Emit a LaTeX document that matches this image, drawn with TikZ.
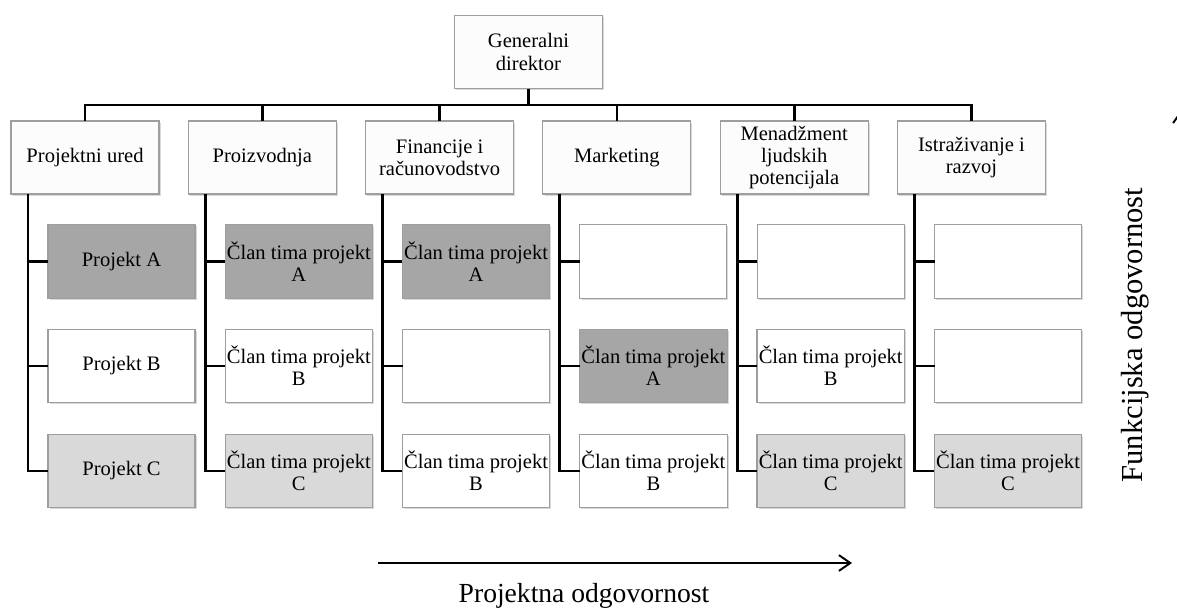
\documentclass[tikz,border=0pt]{standalone}
\usepackage{fontspec}
\setmainfont{Liberation Serif}
\usetikzlibrary{shadows,arrows.meta}

\begin{document}
\begin{tikzpicture}[x=0.02cm, y=-0.02cm,
    box/.style={draw=black!38, line width=0.6pt, fill=black!1, minimum width=2.96cm, minimum height=1.46cm,
        align=center, inner sep=1pt, outer sep=0pt, font=\fontsize{11.7}{12.6}\selectfont,
        drop shadow={opacity=0.3, shadow xshift=0.9pt, shadow yshift=-0.9pt}},
    member/.style={box, minimum width=2.94cm, minimum height=1.47cm, fill=white},
    darkmember/.style={member, fill=black!35},
    lightmember/.style={member, fill=black!15},
    link/.style={line width=1.6pt},
    axis/.style={line width=1.1pt, -{Straight Barb[length=6.5pt,width=9pt]}}]
    \clip (0, 0) rectangle (1177, 610);

    % top
    \node [box] (gd) at (528.5, 52) {Generalni\\direktor};
    \coordinate (bus) at (0, 105);

    % functions
    \node [box] (p1) at (85, 157.5) {Projektni ured};
    \node [box] (p2) at (262.3, 157.5) {Proizvodnja};
    \node [box] (p3) at (439.6, 157.5) {Financije i\\računovodstvo};
    \node [box] (p4) at (616.9, 157.5) {Marketing};
    \node [box] (p5) at (794.2, 157.5) {Menadžment\\ljudskih\\potencijala};
    \node [box] (p6) at (971.5, 157.5) {Istraživanje i\\razvoj};

    % projects / team members
    \node [darkmember] (c11) at (121.5, 261.5) {Projekt A};
    \node [member] (c12) at (121.5, 366) {Projekt B};
    \node [lightmember] (c13) at (121.5, 471) {Projekt C};

    \node [darkmember] (c21) at (298.8, 261.5) {Član tima projekt\\A};
    \node [member] (c22) at (298.8, 366) {Član tima projekt\\B};
    \node [lightmember] (c23) at (298.8, 471) {Član tima projekt\\C};

    \node [darkmember] (c31) at (476.1, 261.5) {Član tima projekt\\A};
    \node [member] (c32) at (476.1, 366) {};
    \node [member] (c33) at (476.1, 471) {Član tima projekt\\B};

    \node [member] (c41) at (653.4, 261.5) {};
    \node [darkmember] (c42) at (653.4, 366) {Član tima projekt\\A};
    \node [member] (c43) at (653.4, 471) {Član tima projekt\\B};

    \node [member] (c51) at (830.7, 261.5) {};
    \node [member] (c52) at (830.7, 366) {Član tima projekt\\B};
    \node [lightmember] (c53) at (830.7, 471) {Član tima projekt\\C};

    \node [member] (c61) at (1008, 261.5) {};
    \node [member] (c62) at (1008, 366) {};
    \node [lightmember] (c63) at (1008, 471) {Član tima projekt\\C};

    % tree lines
    \draw [link] (gd.south) -- (gd.south |- bus);
    \draw [link] (p1.north) |- (p6.north |- bus) -- (p6.north);
    \foreach \i in {2,...,5}
        \draw [link] (p\i.north) -- (p\i.north |- bus);

    \coordinate (t1) at (28, 194);
    \coordinate (t2) at (205.3, 194);
    \coordinate (t3) at (382.6, 194);
    \coordinate (t4) at (559.9, 194);
    \coordinate (t5) at (737.2, 194);
    \coordinate (t6) at (914.5, 194);
    \foreach \i in {1,...,6} {
        \draw [link] (t\i) |- (c\i3.west);
        \draw [link] (t\i |- c\i1.west) -- (c\i1.west);
        \draw [link] (t\i |- c\i2.west) -- (c\i2.west);
    }

    % axes
    \coordinate (ha) at (378, 563);
    \coordinate (hb) at (852, 563);
    \draw [axis] (ha) -- (hb);
    \node [font=\fontsize{15.7}{18}\selectfont] (pl) at (584, 596) {Projektna odgovornost};

    \coordinate (va) at (1181, 480);
    \coordinate (vb) at (1181, 110);
    \draw [axis] (va) -- (vb);
    \node [rotate=90, font=\fontsize{17.4}{20}\selectfont] (fl) at (1135, 335) {Funkcijska odgovornost};
\end{tikzpicture}
\end{document}
